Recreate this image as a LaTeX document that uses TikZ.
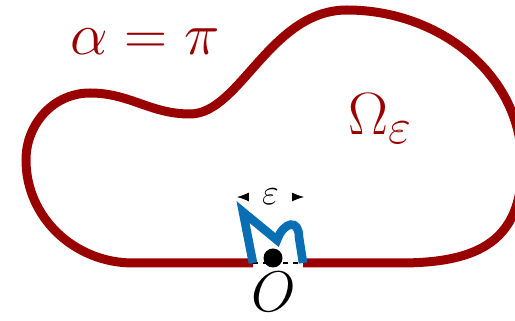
\documentclass[tikz,border=0pt]{standalone}
\usepackage{amsmath}
\usepackage{tikz}
\usetikzlibrary{arrows.meta}
\definecolor{darkred}{HTML}{990000}
\definecolor{cutblue}{HTML}{0A6EB4}

\begin{document}
\begin{tikzpicture}[x=0.5pt,y=0.5pt,
  boundary/.style={darkred,line width=4.5pt},
  biglabel/.style={inner sep=0pt,font=\Huge,scale=1.2}]
\useasboundingbox (0,0) rectangle (515,321);
\coordinate (bl) at (133,58);
\coordinate (br) at (400,58);
\coordinate (cl) at (253,58);
\coordinate (cr) at (303,58);
% domain boundary
\draw[boundary] (cl) -- (bl) to[out=180,in=-90] (26,161) to[out=90,in=180] (90,228)
  to[out=0,in=180] (190,207) .. controls (240,207) and (270,311) .. (347,311)
  to[out=0,in=90] (522,156) .. controls (522,81) and (480,58) .. (br) -- (cr);
\draw[black,line width=0.6pt,dash pattern=on 2.5pt off 2.5pt] (cl) -- (cr);
\node[circle,fill=black,minimum size=9.5pt,inner sep=0pt] (O) at (273,63) {};
% cut near the corner
\draw[cutblue,line width=4.3pt] (cl) -- (243,109) -- (277,81)
  .. controls (284,100) and (299,102) .. (299,84) -- (cr);
\node[biglabel,darkred,anchor=base] (alpha) at (145,266) {$\alpha=\pi$};
\node[biglabel,darkred,anchor=base west] (omega) at (348,186) {$\Omega_\varepsilon$};
\node[biglabel,scale=0.96,anchor=base] (olabel) at (274,9.5) {$O$};
\coordinate (el) at (237,124);
\coordinate (er) at (304,124);
\draw[{Latex[length=6pt,width=4.5pt]}-{Latex[length=6pt,width=4.5pt]}] (el) -- (er)
  node[midway,fill=white,minimum width=20.5pt,font=\LARGE,scale=1.05] (eps) {$\varepsilon$};
\end{tikzpicture}
\end{document}
